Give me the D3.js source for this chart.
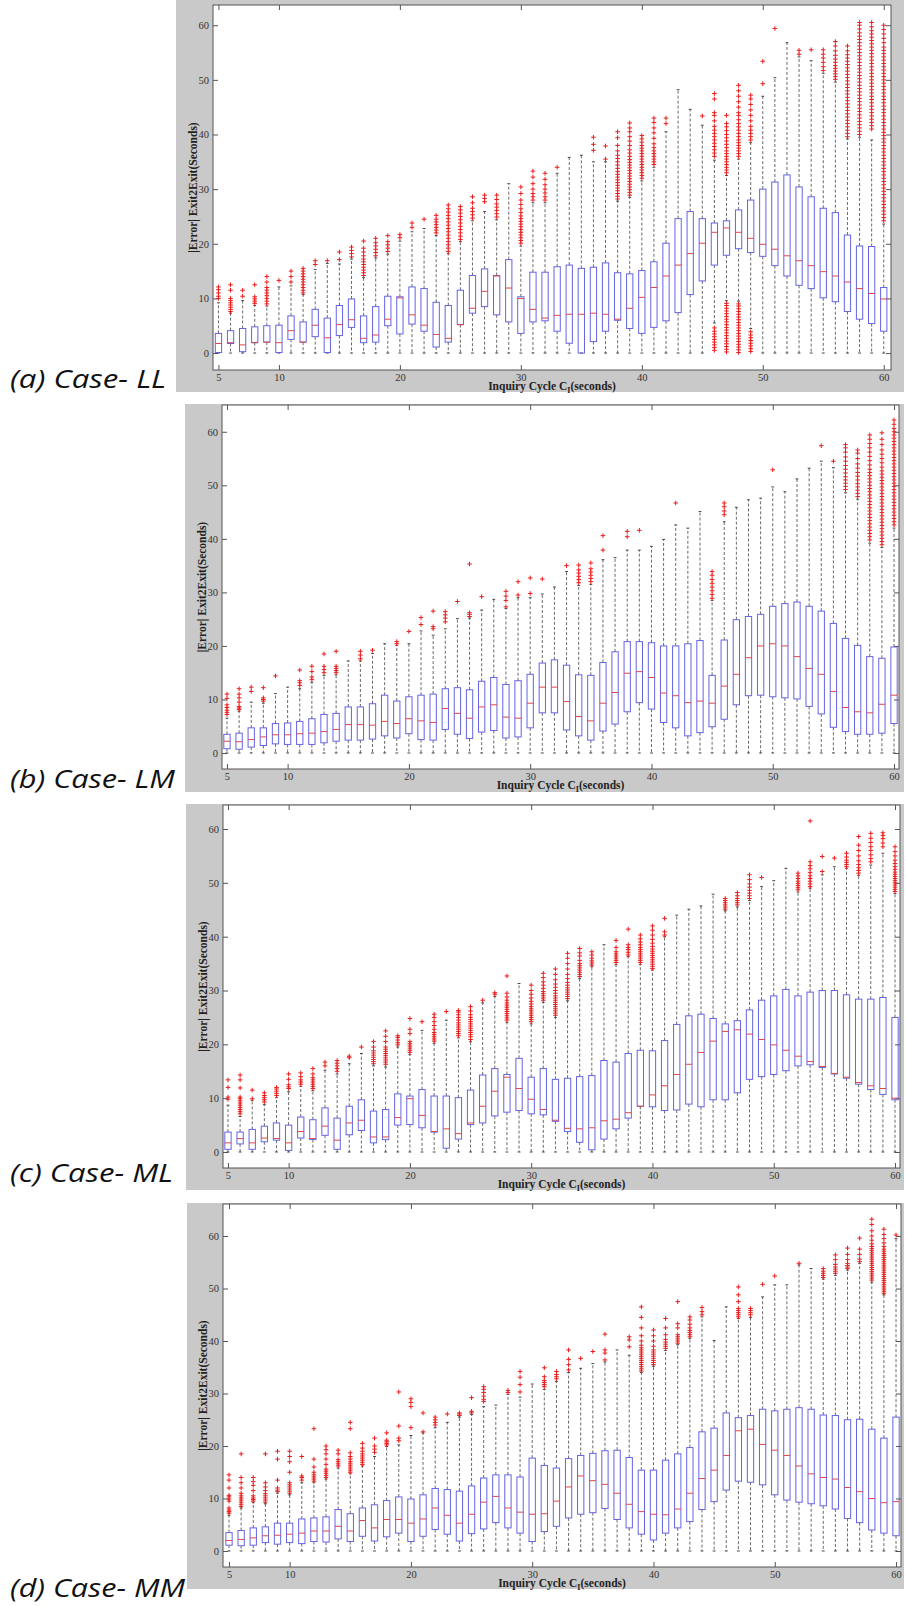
<!DOCTYPE html>
<html>
<head>
<meta charset="utf-8">
<script src="https://cdn.jsdelivr.net/npm/d3@7"></script>
<style>
  body { margin: 0; background: #fff; }
  svg { display: block; }
</style>
</head>
<body>
<div id="chart"></div>
<script>
// Inquiry cycle C_I (seconds), one box per cycle
const cycles = [5,6,7,8,9,10,11,12,13,14,15,16,17,18,19,20,21,22,23,24,25,26,27,28,29,30,31,32,
  33,34,35,36,37,38,39,40,41,42,43,44,45,46,47,48,49,50,51,52,53,54,55,56,57,58,59,60];
const xTicks = [5, 10, 20, 30, 40, 50, 60];
const yTicks = [0, 10, 20, 30, 40, 50, 60];

// ---------- (a) Case- LL ----------
const llQ1 = [0.1,1.75,0.25,1.9,2.0,0.1,2.5,2.0,3.0,0.1, 3.2,4.7,1.9,2.0,5.0,3.5,5.3,4.0,1.1,2.0,
  5.2,7.3,8.5,7.0,5.7,3.6,5.7,5.9,4.0,1.8, 0.0,2.1,4.0,6.0,4.5,3.6,4.7,5.9,7.4,10.7,
  13.2,16.1,17.9,19.1,18.4,17.7,16.0,14.1,12.4,11.8, 10.1,9.4,7.6,6.2,5.4,4.0];
const llMed = [1.75,1.9,1.5,1.9,2.0,1.9,4.1,2.0,5.1,2.8, 5.2,6.1,2.7,3.3,6.2,10.1,7.0,5.1,3.4,2.7,
  5.2,8.2,11.3,14.1,11.9,10.0,8.0,6.4,6.9,7.1, 7.1,7.3,7.1,6.2,8.2,10.2,12.0,14.1,16.1,18.2,
  20.1,22.1,22.9,22.1,21.0,19.9,19.0,17.8,16.9,16.0, 14.9,14.1,13.0,11.8,10.9,9.9];
const llQ3 = [3.6,4.1,4.5,4.8,5.0,5.1,6.8,5.7,8.0,6.4, 8.7,9.9,6.8,8.5,10.4,10.3,12.1,11.8,9.3,8.7,
  11.5,14.2,15.4,14.2,17.1,10.3,14.8,14.8,15.8,16.1, 15.5,15.7,16.5,14.7,14.5,15.1,16.7,20.1,24.6,25.9,
  24.6,23.8,24.2,26.2,28.0,30.0,31.3,32.6,30.4,28.6, 26.5,25.7,21.6,19.6,19.5,12.0];
const llHi = [9.2,7.3,9.6,8.7,8.6,12.1,12.3,10.7,15.3,16.4, 16.3,17.2,13.8,17.4,18.1,20.5,22.2,22.8,21.5,18.2,
  20.4,24.2,25.9,24.4,31.0,19.6,27.5,27.5,32.9,35.8, 36.2,35.0,35.0,27.8,28.5,31.5,34.0,40.5,48.2,44.6,
  41.7,35.3,32.5,35.5,38.5,47.0,50.4,56.8,54.2,53.5, 51.2,49.6,39.2,39.5,39.0,23.6];
// lower whisker ends that are not at 0 (cycle -> value)
const llLoRaised = {46: 5.5, 47: 9.6, 48: 9.5, 49: 4.5};
const llOut = [
  [10,10.4,11,11.6,12.1],
  [7.6,8,8.4,8.8,9.2,9.6,10,11.5,12.5],
  [10.4,11.5],
  [9.1,9.5,9.9,10.3,12.5],
  [9,9.5,10,10.5,11,11.5,12,13,14],
  [13.3],
  [13,14,15],
  [11,11.5,12,12.5,13,13.5,14,14.5,15,15.5],
  [16.2,16.9],
  [16.9],
  [17.1,18.5],
  [17.6,18.2,18.8,19.4],
  [14.2,14.7,15.2,15.7,16.2,16.7,17.2,17.8,18.5,19.2,20.5],
  [17.8,18.4,19,19.6,20.2,21],
  [18.6,19.2,19.8,20.4,21.5],
  [21.1,21.7],
  [23,23.8],
  [24.5],
  [22,22.5,23,23.5,24,24.5,25.2],
  [18.6,19.2,19.8,20.4,21,21.6,22.2,22.8,23.4,24,24.6,25.2,25.8,26.4,27.1],
  [20.8,21.4,22,22.6,23.2,23.8,24.4,25,25.6,26.2,26.8],
  [24.7,25.3,25.9,26.5,27.5,28.6],
  [27.7,28.3,28.9],
  [24.9,25.5,26.1,26.7,27.3,28.1,28.9],
  [],
  [20.1,20.6,21.1,21.6,22.1,22.6,23.1,23.6,24.1,24.6,25.1,25.7,26.4,27.2,28,29.2,30.4],
  [28,28.6,29.2,30,31,32.2,33.3],
  [28,28.6,29.3,30,30.8,31.8,32.9],
  [34],
  [],
  [],
  [37.1,38.2,39.5],
  [35.5,37.9],
  [28.2,28.7,29.2,29.7,30.2,30.7,31.2,31.7,32.2,32.7,33.2,33.8,34.4,35,35.6,36.2,37,38,39.4,40.5],
  [28.9,29.4,29.9,30.4,30.9,31.4,31.9,32.4,32.9,33.4,33.9,34.4,34.9,35.4,36,36.6,37.2,38,38.8,39.6,40.5,41.2,42.1],
  [32,32.5,33,33.5,34,34.5,35,35.5,36,36.5,37,37.5,38,38.6,39.2,39.8],
  [34.5,35,35.5,36,36.5,37,37.6,38.3,39.3,40.3,41.2,42.2,43],
  [42,43],
  [],
  [],
  [43.4],
  [0.5,1,1.5,2,2.5,3,3.5,4,4.6,36,36.6,37.2,37.8,38.4,39,39.6,40.2,40.8,41.5,42.5,43.5,44,46.5,47.5],
  [0.2,0.7,1.2,1.7,2.2,2.7,3.2,3.7,4.2,4.7,5.2,5.7,6.2,6.7,7.2,7.7,8.2,8.7,9.1,
   33,33.5,34,34.5,35,35.5,36,36.5,37,37.6,38.2,38.8,39.4,40,40.7,41.4,42,43.5],
  [0.1,0.6,1.1,1.6,2.1,2.6,3.1,3.6,4.1,4.6,5.1,5.6,6.1,6.6,7.1,7.6,8.1,8.6,9,
   36,36.5,37,37.5,38,38.5,39,39.6,40.2,40.8,41.4,42,42.7,43.5,44,45,46,47,48,49],
  [0.3,0.8,1.3,1.8,2.3,2.8,3.3,3.9,39,39.6,40.2,40.8,41.5,42.5,43.5,44.5,45.5,46.5,47.2],
  [49.3,53.4],
  [59.4],
  [],
  [54.7,55.4],
  [55.5],
  [51.7,52.4,53.2,54,54.7,55.5],
  [50.1,50.6,51.1,51.6,52.1,52.6,53.2,53.8,54.5,55.3,56.2,57],
  [39.6,40.2,40.8,41.4,42,42.6,43.2,43.8,44.4,45,45.6,46.2,46.8,47.4,48,48.6,49.2,49.8,50.4,51,51.6,52.2,52.8,53.4,54,54.6,55.3,56.2],
  [40,40.6,41.2,41.8,42.4,43,43.6,44.2,44.8,45.4,46,46.6,47.2,47.8,48.4,49,49.6,50.2,50.8,51.4,52,52.6,53.2,53.8,54.4,55,55.6,56.2,56.8,57.4,58,58.6,59.3,60,60.5],
  [41,41.6,42.2,42.8,43.4,44,44.6,45.2,45.8,46.4,47,47.6,48.2,48.8,49.4,50,50.6,51.2,51.8,52.4,53,53.6,54.2,54.8,55.4,56,56.6,57.2,57.8,58.4,59,59.7,60.5],
  [24.2,24.8,25.4,26,26.6,27.2,27.8,28.4,29,29.6,30.2,30.8,31.4,32,32.6,33.2,33.8,34.4,35,35.6,36.2,36.8,37.4,38,38.6,39.2,39.8,
   40.4,41,41.6,42.2,42.8,43.4,44,44.6,45.2,45.8,46.4,47,47.6,48.2,48.8,49.4,50,50.6,51.2,51.8,52.4,53,53.6,54.2,54.8,55.4,56,56.8,57.6,58.4,59.2,60]
];

// ---------- (b) Case- LM ----------
const lmQ1 = [0.8,0.7,1.1,1.4,1.7,1.6,1.6,1.6,1.9,2.2, 2.4,2.4,2.6,3.2,2.8,3.6,2.5,2.4,4.4,3.5,
  2.7,3.9,4.2,2.8,3.0,4.7,7.5,7.5,4.3,3.2, 2.4,4.1,5.4,7.7,9.4,8.2,5.7,4.7,3.2,3.8,
  4.9,6.3,9.0,10.7,10.8,10.5,10.3,10.1,8.7,7.3, 4.8,4.0,3.5,3.5,3.7,5.5];
const lmMed = [2.2,2.1,2.5,3.0,3.4,3.4,3.6,3.7,4.0,4.4, 5.3,5.3,5.2,5.9,5.5,6.4,6.0,5.7,8.3,7.4,
  6.5,8.6,9.0,6.7,6.5,9.3,12.3,12.3,9.6,6.8, 6.0,9.3,11.3,14.9,15.2,14.1,11.2,10.7,9.4,9.7,
  9.3,12.5,14.7,17.8,20.0,20.4,20.0,18.0,15.8,14.7, 11.5,8.5,7.7,7.5,9.1,10.8];
const lmQ3 = [3.5,3.7,4.7,4.7,5.5,5.6,5.9,6.4,7.2,7.4, 8.6,8.6,9.2,10.8,9.7,10.5,10.8,11.0,12.0,12.2,
  11.8,13.4,14.1,12.8,13.5,14.7,16.8,17.4,16.4,14.6, 14.5,16.9,18.9,20.8,20.8,20.6,20.0,20.0,20.4,21.0,
  14.5,21.1,24.9,25.5,25.9,27.4,27.9,28.2,27.4,26.5, 24.2,21.4,20.1,18.0,17.7,19.8];
const lmHi = [6.5,7.8,9.5,9.3,11.1,12.3,12.0,13.2,14.5,14.6, 17.2,17.2,18.6,20.4,20.1,20.4,22.8,22.0,23.2,25.1,
  25.2,26.7,28.7,27.0,29.0,29.0,29.7,31.0,33.9,31.3, 31.5,36.1,36.5,37.9,37.9,38.6,39.9,42.6,42.0,45.1,
  28.5,43.2,45.9,47.3,47.6,49.7,48.8,51.2,53.2,54.5, 53.3,48.6,47.4,39.2,38.4,42.0];
const lmOut = [
  [7.2,7.6,8,8.5,9,10.2,11],
  [8.1,8.4,8.7,9.5,10.3,11,12],
  [11.5,12.3],
  [9.7,10,10.3,12.2],
  [14.4],
  [],
  [12.6,13.1,13.5,15.5],
  [13.7,14.2,15.2,16.2],
  [15,15.6,16.2,18.5],
  [15,15.4,15.8,16.2,19],
  [],
  [17.6,18.3,19],
  [19.2],
  [],
  [20.4,20.8],
  [22.7],
  [24,25.3],
  [23.2,23.6,26.5],
  [24.5,25.2,25.8,26.4],
  [28.3],
  [25.5,25.9,26.2,35.3],
  [29.2],
  [],
  [27.3,28.5,29.3,30.2],
  [29.5,32],
  [29.8,32.7],
  [32.5],
  [],
  [35],
  [31.8,32.4,33,33.6,34.2,35.1],
  [32,32.6,33.2,33.8,34.4,35.5],
  [37.9,40.6],
  [],
  [40.4,41.4],
  [41.6],
  [],
  [],
  [46.7],
  [],
  [],
  [28.9,29.6,30.3,31,31.7,32.4,33.2,33.9],
  [44.5,45.2,46,46.7],
  [],
  [],
  [],
  [52.9],
  [],
  [],
  [],
  [57.4],
  [54.5],
  [49.2,49.8,50.4,51,51.6,52.3,53,53.7,54.5,55.3,56.2,57,57.6],
  [47.9,48.5,49.1,49.7,50.3,51,51.7,52.4,53.2,54,55,56,56.6],
  [39.8,40.4,41,41.6,42.2,42.8,43.4,44,44.6,45.2,45.8,46.4,47,47.6,48.2,48.8,49.4,50,50.6,51.2,51.8,52.4,53,53.8,54.6,55.4,56.2,57,57.8,58.6,59.4],
  [38.9,39.5,40.1,40.7,41.3,41.9,42.5,43.1,43.7,44.3,44.9,45.5,46.1,46.7,47.3,47.9,48.5,49.1,49.7,50.3,50.9,51.5,52.1,52.7,53.4,54.2,55,55.8,56.6,57.6,58.6,59.8],
  [42.6,43.2,43.8,44.4,45,45.6,46.2,46.8,47.4,48,48.6,49.2,49.8,50.4,51,51.6,52.2,52.8,53.4,54,54.6,55.2,55.8,56.4,57,57.6,58.2,58.8,59.4,60,60.6,61.4,62.2]
];

// ---------- (c) Case- ML ----------
const mlQ1 = [0.5,1.5,0.5,1.9,2.2,0.3,2.6,2.3,3.1,0.5, 3.2,4.0,1.7,2.3,5.0,5.1,4.5,3.7,0.7,2.4,
  5.1,5.4,6.7,7.4,7.7,7.1,6.9,5.7,3.8,1.8, 0.4,2.4,4.3,6.3,8.5,8.4,7.7,7.8,8.9,8.4,
  9.7,9.7,11.0,13.5,14.0,14.4,15.1,16.0,16.2,15.7, 14.5,13.7,12.6,11.6,10.7,9.7];
const mlMed = [1.7,2.5,1.7,2.6,2.5,1.7,3.8,2.5,4.8,2.2, 5.4,5.9,2.8,2.8,6.4,9.9,6.8,3.8,4.3,3.4,
  5.4,8.5,11.3,13.9,11.8,9.8,7.9,5.9,4.4,4.3, 4.5,5.8,6.1,7.3,8.5,10.6,12.3,14.4,16.3,18.5,
  20.6,22.4,22.7,21.9,20.9,19.9,18.9,17.8,16.8,15.9, 14.6,13.9,12.9,12.3,11.8,10.0];
const mlQ3 = [3.7,3.7,4.2,4.8,5.4,5.0,6.5,6.0,8.2,6.3, 8.5,9.7,7.6,7.9,10.8,10.4,11.6,10.4,10.4,10.1,
  11.5,14.3,15.5,14.4,17.4,13.9,15.5,13.5,13.7,14.0, 14.2,17.0,16.7,18.3,18.9,18.8,20.7,23.7,25.3,25.6,
  24.8,23.8,24.4,26.4,28.2,29.0,30.2,29.0,29.7,30.0, 30.0,29.2,28.4,28.4,28.7,25.0];
const mlHi = [8.7,6.6,9.6,8.8,10.1,11.2,12.2,11.4,15.2,14.5, 16.4,18.3,16.0,15.8,19.5,18.1,22.6,20.2,24.5,21.2,
  20.5,27.7,28.9,24.1,31.3,23.8,27.8,25.0,28.1,32.2, 34.4,38.5,34.8,36.3,34.8,33.8,40.0,44.0,45.1,45.7,
  47.9,44.8,45.5,46.7,49.3,50.4,52.7,48.3,49.0,51.5, 53.0,52.7,51.4,53.3,55.5,48.0];
const mlOut = [
  [9.8,10.2,12,13.4],
  [7.1,7.5,7.9,8.3,8.7,9.1,9.5,9.9,10.2,11.9,13.4,14.3],
  [9.9,11.5],
  [9.3,9.7,10.1,10.5,11],
  [10.5,10.9,11.3,11.7,12],
  [11.8,12.1,12.5,13.5,14.5],
  [12.6,13,13.4,14,14.7],
  [11.8,12.2,12.6,13,13.4,13.8,14.5,15.5],
  [16,16.7],
  [15,15.5,16,16.5,17],
  [17.5,17.8],
  [19.5],
  [16.4,16.8,17.2,17.6,18,18.4,18.8,19.5,20.5],
  [16.3,16.7,17.1,17.5,17.9,18.3,18.7,19.1,19.5,20.5,21.5,22.5],
  [19.9,20.3,20.8,21.3,21.6],
  [18.5,18.9,19.3,19.7,20.1,20.5,22,22.8,24.8],
  [24.2],
  [20.6,21,21.4,21.8,22.2,22.8,23.5,24.2,25,25.6],
  [26.1],
  [21.6,22,22.4,22.8,23.2,23.6,24,24.5,25,25.5,26,26.3],
  [20.9,21.4,21.8,22.2,22.6,23,23.4,23.8,24.2,24.6,25,25.5,26.2,27],
  [28.2],
  [29.3,29.6],
  [24.5,24.9,25.3,25.7,26.1,26.5,26.9,27.3,27.7,28.2,28.8,29.5,32.7],
  [],
  [24.2,24.6,25,25.4,25.8,26.2,26.6,27,27.5,28,28.6,29.3,30,31],
  [28.2,28.6,29,29.4,29.8,30.4,31,31.6,32.4,33.2],
  [25.4,25.8,26.2,26.6,27,27.4,27.8,28.2,28.6,29,29.5,30,30.6,31.2,32,33,34],
  [28.5,28.9,29.3,29.7,30.1,30.5,31,31.5,32.2,33,34,35,36,36.9],
  [32.6,33,33.4,33.8,34.2,34.6,35,35.6,36.4,37,37.8],
  [34.7,35.1,35.5,36,36.6,37.2],
  [],
  [35.2,35.6,36,36.4,36.8,37.2,38,39.3],
  [36.6,37.1,37.6,38,38.5,41.4],
  [35.2,35.6,36,36.4,36.8,37.2,37.6,38,38.5,39,39.6,40.3],
  [34.1,34.5,34.9,35.3,35.7,36.1,36.5,36.9,37.3,37.7,38.2,38.8,39.5,40.3,41.2,42],
  [40.3,40.9,43.4],
  [],
  [],
  [],
  [],
  [45.1,45.5,45.9,46.3,46.7,47.1],
  [45.9,46.3,46.7,47.1,47.6,48.2],
  [47.1,47.6,48.1,48.6,49.2,49.8,50.6,51.5],
  [51.0],
  [],
  [],
  [48.7,49.1,49.5,49.9,50.3,50.8,51.3,51.8],
  [49.3,49.8,50.3,50.8,51.3,51.9,52.6,53.2,53.9,61.5],
  [52.1,54.9],
  [54.6],
  [53,53.4,53.8,54.2,54.8,55.5],
  [51.8,52.3,52.8,53.4,54.1,55,56,57,58.6],
  [53.9,54.5,55.2,56,56.7,57.5,58.3,59.2],
  [56.7,57.4,58.2,58.8,59.3],
  [48.4,48.8,49.2,49.6,50,50.4,50.8,51.2,51.6,52,52.5,53,53.6,54.2,55,55.8,56.7]
];

// ---------- (d) Case- MM ----------
const mmQ1 = [1.1,1.0,1.1,1.6,1.3,1.6,1.4,1.8,1.7,2.3, 1.8,2.8,1.9,2.7,3.4,1.8,2.8,4.1,3.2,1.9,
  3.3,4.2,5.4,4.4,3.4,1.8,3.7,4.7,6.3,7.0, 7.3,8.1,6.0,4.4,3.2,2.1,3.4,4.4,5.6,7.9,
  9.4,11.6,13.3,13.1,12.6,10.7,9.7,9.3,9.0,8.6, 8.0,6.2,5.4,4.0,3.4,2.9];
const mmMed = [2.0,2.2,2.5,2.9,3.0,3.2,3.4,3.8,3.8,4.7, 3.8,5.8,4.4,6.0,6.0,5.3,6.1,8.2,6.8,5.3,
  7.0,9.3,10.4,8.2,7.4,7.0,7.1,9.5,12.2,14.3, 13.4,12.7,11.0,8.9,7.5,7.0,6.9,8.0,11.0,13.8,
  15.4,18.2,22.9,23.2,20.3,19.2,18.2,16.2,14.7,14.0, 13.7,12.1,11.3,10.0,9.2,9.4];
const mmQ3 = [3.5,3.9,4.4,4.6,5.3,5.3,6.1,6.3,6.5,7.9, 7.1,8.2,8.8,9.6,10.3,9.9,10.7,11.9,11.7,11.4,
  12.4,13.9,14.5,14.5,14.1,17.7,16.3,15.8,17.6,18.2, 18.6,19.1,19.2,17.8,15.4,15.4,17.3,18.5,19.7,22.7,
  23.4,26.3,25.4,25.8,27.0,26.7,27.0,27.3,27.0,25.9, 25.8,25.0,25.1,23.2,21.5,25.5];
const mmHi = [6.8,8.2,9.2,9.0,11.0,10.7,13.0,13.0,13.7,15.8, 14.7,16.2,18.0,19.9,20.2,22.0,22.5,23.5,24.5,25.5,
  26.0,27.5,27.8,29.8,29.3,31.8,30.8,32.3,34.0,34.8, 35.7,36.0,38.3,37.3,34.0,35.2,38.2,39.3,40.5,44.6,
  40.1,46.5,44.3,44.5,48.4,50.7,50.7,54.5,53.8,51.8, 52.5,53.5,54.8,51.2,48.8,59.5];
const mmOut = [
  [7.2,7.5,7.8,8.2,9.5,9.9,10.3,10.6,12,13.5,14.5],
  [8.5,8.9,9.3,9.7,10.1,10.5,11,12,13,14,18.5],
  [9.5,9.8,10.1,10.5,11.5,12.5,13.2,14],
  [9.3,9.7,10.1,10.5,10.9,11.5,12.2,13,18.5],
  [11.3,11.6,12,13.5,17.5,19],
  [11,11.4,11.8,12.2,12.6,13,15,17,18,19],
  [13.5,14,14.3,18],
  [13.3,13.7,14.1,14.5,15,16,17.5,23.3],
  [14,14.4,14.8,15.2,15.6,16.5,17.5,18.5,19.3,20],
  [16.2,16.6,17,17.4,18.5,19.2],
  [15,15.4,15.8,16.2,16.6,17,17.5,18,18.7,23.3,24.5],
  [16.5,16.9,17.3,17.7,18.1,18.5,19,19.6,20.5],
  [18.8,19.4,20,21.5],
  [20.2,20.5,20.8,21.1,22.5],
  [21,21.5,23.8,30.3],
  [23.5,27.5,28.3,29],
  [22.7,26.3],
  [24,24.5,25,25.5],
  [26.1],
  [25.8,26.1,26.3],
  [26.3,26.6,29.2],
  [28.5,28.9,29.5,30.2,30.8,31.3],
  [],
  [30.2,30.6],
  [30.3,31.7,33.1,34.2],
  [],
  [31.3,31.7,32.1,32.5,33.2,34.9],
  [32.8,33.2,33.6,34.2],
  [34.5,35.5,36.5,38.3],
  [36.7],
  [38],
  [36.4,37.7,38.3,41.3],
  [],
  [38.9,40.2,40.8],
  [34.3,34.7,35.1,35.5,35.9,36.3,36.7,37.1,37.5,37.9,38.3,38.7,39.2,40,41,42.5,44.5,46.5],
  [35.5,35.9,36.3,36.7,37.1,37.5,37.9,38.3,39,40,41,42.1],
  [38.6,39,39.4,39.8,40.3,41.2,42.5,44.3],
  [39.6,40,40.4,40.8,41.2,42.5,43.3,47.5],
  [40.8,41.2,41.6,42,42.5,43.2,44,44.6],
  [45,45.6,46.4],
  [],
  [],
  [44.6,45,45.4,45.8,46.2,47.5,48.8,50.3],
  [45,45.4,45.8,46.2],
  [50.8],
  [52.4],
  [],
  [54.8],
  [],
  [52.1,52.5,52.9,53.3,53.8],
  [52.9,53.3,53.7,54.1,54.6,55.5,56.4],
  [53.8,54.1,54.4,54.8,55.5,56.5,57.7],
  [55.1,55.6,56.5,57.5,59.6],
  [51.6,52,52.4,52.8,53.2,53.6,54,54.4,54.8,55.2,55.6,56,56.4,56.8,57.2,57.6,58,58.5,59.2,60,61,62.2,63.2],
  [49.1,49.5,49.9,50.3,50.7,51.1,51.5,51.9,52.3,52.7,53.1,53.5,53.9,54.3,54.7,55.1,55.5,55.9,56.3,56.7,57.1,57.5,58,58.7,59.5,60.3,61.3],
  [60.2]
];

// ---------- layout of the four stacked panels ----------
const panels = [
  { tag: "(a) Case- LL", q1: llQ1, med: llMed, q3: llQ3, hi: llHi, loRaised: llLoRaised, out: llOut,
    frame: [176, 0, 904, 392], plot: [213, 5, 891, 370], xDom: [4.55, 60.6], yDom: [-3.1, 63.7],
    tagY: 388, tagW: 156 },
  { tag: "(b) Case- LM", q1: lmQ1, med: lmMed, q3: lmQ3, hi: lmHi, loRaised: {}, out: lmOut,
    frame: [185, 404, 904, 792], plot: [222, 405, 899, 769], xDom: [4.59, 60.41], yDom: [-2.99, 65.0],
    tagY: 788, tagW: 165 },
  { tag: "(c) Case- ML", q1: mlQ1, med: mlMed, q3: mlQ3, hi: mlHi, loRaised: {}, out: mlOut,
    frame: [186, 804, 904, 1190], plot: [223, 805, 900, 1168], xDom: [4.59, 60.41], yDom: [-2.97, 64.46],
    tagY: 1182, tagW: 163 },
  { tag: "(d) Case- MM", q1: mmQ1, med: mmMed, q3: mmQ3, hi: mmHi, loRaised: {}, out: mmOut,
    frame: [187, 1203, 904, 1589], plot: [223, 1204, 901, 1567], xDom: [4.505, 60.41], yDom: [-3.05, 66.1],
    tagY: 1597, tagW: 175 }
];

const width = 906, height = 1606;
const svg = d3.select("#chart").append("svg")
  .attr("width", width).attr("height", height)
  .attr("viewBox", `0 0 ${width} ${height}`);

const serif = "'Liberation Serif', 'DejaVu Serif', serif";

panels.forEach(p => {
  const [fx0, fy0, fx1, fy1] = p.frame;
  const [pl, pt, pr, pb] = p.plot;
  const g = svg.append("g");

  // gray figure background and white axes area
  g.append("rect").attr("x", fx0).attr("y", fy0)
    .attr("width", fx1 - fx0).attr("height", fy1 - fy0).attr("fill", "#c9c9c9");
  g.append("rect").attr("x", pl).attr("y", pt)
    .attr("width", pr - pl).attr("height", pb - pt).attr("fill", "#fff");

  const x = d3.scaleLinear().domain(p.xDom).range([pl, pr]);
  const y = d3.scaleLinear().domain(p.yDom).range([pb, pt]);
  const boxW = (x(1) - x(0)) * 0.52;
  const capW = boxW * 0.45;

  // axes: ticks pointing inward on all four sides
  const fontAxis = sel => sel.selectAll("text")
    .attr("font-family", serif).attr("font-size", 10.5).attr("fill", "#333");
  const axisStyle = sel => {
    sel.select(".domain").remove();
    sel.selectAll("line").attr("stroke", "#555");
  };
  g.append("g").attr("transform", `translate(0,${pb})`)
    .call(d3.axisBottom(x).tickValues(xTicks).tickSize(-5).tickPadding(4))
    .call(axisStyle).call(fontAxis);
  g.append("g").attr("transform", `translate(0,${pt})`)
    .call(d3.axisTop(x).tickValues(xTicks).tickSize(-5).tickFormat(""))
    .call(axisStyle);
  g.append("g").attr("transform", `translate(${pl},0)`)
    .call(d3.axisLeft(y).tickValues(yTicks).tickSize(-5).tickPadding(4))
    .call(axisStyle).call(fontAxis);
  g.append("g").attr("transform", `translate(${pr},0)`)
    .call(d3.axisRight(y).tickValues(yTicks).tickSize(-5).tickFormat(""))
    .call(axisStyle);

  // one group per box
  const rows = cycles.map((c, i) => ({
    c, q1: p.q1[i], med: p.med[i], q3: p.q3[i], hi: p.hi[i],
    lo: p.loRaised[c] !== undefined ? p.loRaised[c] : 0, out: p.out[i]
  }));

  const box = g.append("g").selectAll("g").data(rows).enter().append("g");

  // whiskers (black dashed)
  box.append("line")
    .attr("x1", d => x(d.c)).attr("x2", d => x(d.c))
    .attr("y1", d => y(d.q3)).attr("y2", d => y(d.hi))
    .attr("stroke", "#444").attr("stroke-width", 0.8).attr("stroke-dasharray", "3,2");
  box.append("line")
    .attr("x1", d => x(d.c)).attr("x2", d => x(d.c))
    .attr("y1", d => y(d.q1)).attr("y2", d => y(d.lo))
    .attr("stroke", "#444").attr("stroke-width", 0.8).attr("stroke-dasharray", "3,2");
  // whisker caps
  box.append("line")
    .attr("x1", d => x(d.c) - capW / 2).attr("x2", d => x(d.c) + capW / 2)
    .attr("y1", d => y(d.hi)).attr("y2", d => y(d.hi))
    .attr("stroke", "#333").attr("stroke-width", 0.9);
  box.append("line")
    .attr("x1", d => x(d.c) - capW / 2).attr("x2", d => x(d.c) + capW / 2)
    .attr("y1", d => y(d.lo)).attr("y2", d => y(d.lo))
    .attr("stroke", "#333").attr("stroke-width", 0.9);

  // box
  box.append("rect")
    .attr("x", d => x(d.c) - boxW / 2).attr("width", boxW)
    .attr("y", d => y(d.q3)).attr("height", d => Math.max(0.5, y(d.q1) - y(d.q3)))
    .attr("fill", "none").attr("stroke", "#6464e6").attr("stroke-width", 1);
  // median
  box.append("line")
    .attr("x1", d => x(d.c) - boxW / 2).attr("x2", d => x(d.c) + boxW / 2)
    .attr("y1", d => y(d.med)).attr("y2", d => y(d.med))
    .attr("stroke", "#e04646").attr("stroke-width", 1);

  // outliers as red plus signs
  const s = 2.3;
  box.selectAll("path.out").data(d => d.out.map(v => ({ c: d.c, v })))
    .enter().append("path").attr("class", "out")
    .attr("d", d => {
      const cx = x(d.c), cy = y(d.v);
      return `M${cx - s},${cy}h${2 * s}M${cx},${cy - s}v${2 * s}`;
    })
    .attr("stroke", "#ea1c1c").attr("stroke-width", 1);

  // axes frame
  g.append("rect").attr("x", pl).attr("y", pt)
    .attr("width", pr - pl).attr("height", pb - pt)
    .attr("fill", "none").attr("stroke", "#555").attr("stroke-width", 1);

  // axis titles
  const xl = g.append("text")
    .attr("x", (pl + pr) / 2).attr("y", pb + 20)
    .attr("text-anchor", "middle")
    .attr("font-family", serif).attr("font-weight", "bold")
    .attr("font-size", 11.5).attr("fill", "#222");
  xl.append("tspan").text("Inquiry Cycle C");
  xl.append("tspan").attr("dy", 2.5).attr("font-size", 8).text("I");
  xl.append("tspan").attr("dy", -2.5).text("(seconds)");

  g.append("text")
    .attr("transform", `translate(${pl - 16},${(pt + pb) / 2}) rotate(-90)`)
    .attr("text-anchor", "middle")
    .attr("font-family", serif).attr("font-weight", "bold")
    .attr("font-size", 11.5).attr("fill", "#222")
    .text("|Error|  Exit2Exit(Seconds)");

  // case tag on the left
  svg.append("text")
    .attr("x", 10).attr("y", p.tagY)
    .attr("font-family", "'Open Sans', 'Noto Sans', sans-serif").attr("font-style", "italic")
    .attr("font-size", 26).attr("fill", "#111")
    .attr("textLength", p.tagW).attr("lengthAdjust", "spacingAndGlyphs")
    .text(p.tag);
});
</script>
</body>
</html>
